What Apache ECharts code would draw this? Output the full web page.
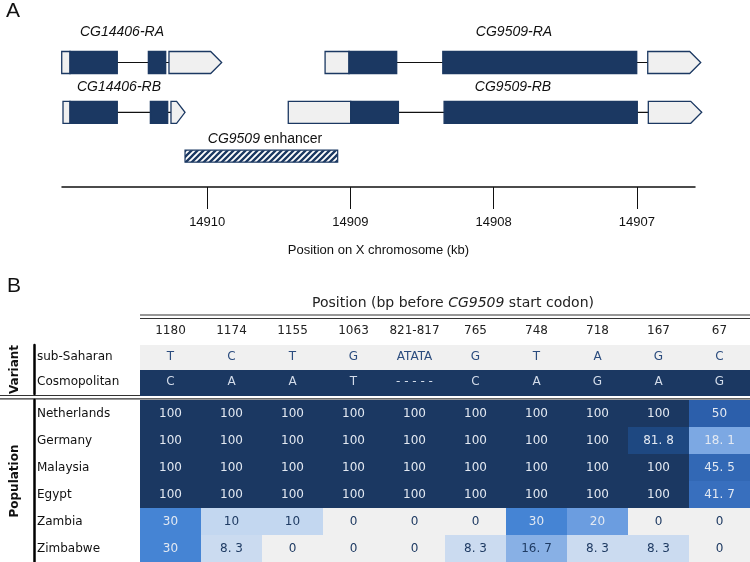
<!DOCTYPE html>
<html><head><meta charset="utf-8">
<script src="https://cdn.jsdelivr.net/npm/echarts@6/dist/echarts.min.js"></script>
<style>html,body{margin:0;padding:0;background:#fff}#c{width:750px;height:562px}</style>
</head><body><div id="c"></div>
<script>
// ---------- Panel A data (kb on X chromosome) ----------
const axisTicksKb = [14910, 14909, 14908, 14907];
// [feature, start kb, end kb]
const CG14406_RA = [['utr5', 14911.016, 14910.958], ['cds', 14910.958, 14910.628], ['cds', 14910.411, 14910.290], ['utr3', 14910.267, 14909.899]];
const CG14406_RB = [['utr5', 14911.007, 14910.958], ['cds', 14910.958, 14910.628], ['cds', 14910.397, 14910.276], ['utr3', 14910.253, 14910.155]];
const CG9509_RA = [['utr5', 14909.177, 14909.010], ['cds', 14909.010, 14908.677], ['cds', 14908.355, 14907.001], ['utr3', 14906.924, 14906.554]];
const CG9509_RB = [['utr5', 14909.434, 14908.998], ['cds', 14908.998, 14908.665], ['cds', 14908.346, 14906.997], ['utr3', 14906.920, 14906.547]];
const enhancerKb = [14910.155, 14909.089];

// ---------- Panel B data ----------
const positions = ['1180', '1174', '1155', '1063', '821-817', '765', '748', '718', '167', '67'];
const variants = ['sub-Saharan', 'Cosmopolitan'];
const subSaharan = ['T', 'C', 'T', 'G', 'ATATA', 'G', 'T', 'A', 'G', 'C'];
const cosmopolitan = ['C', 'A', 'A', 'T', '-----', 'C', 'A', 'G', 'A', 'G'];
const populations = ['Netherlands', 'Germany', 'Malaysia', 'Egypt', 'Zambia', 'Zimbabwe'];
const netherlands = [100, 100, 100, 100, 100, 100, 100, 100, 100, 50];
const germany = [100, 100, 100, 100, 100, 100, 100, 100, 81.8, 18.1];
const malaysia = [100, 100, 100, 100, 100, 100, 100, 100, 100, 45.5];
const egypt = [100, 100, 100, 100, 100, 100, 100, 100, 100, 41.7];
const zambia = [30, 10, 10, 0, 0, 0, 30, 20, 0, 0];
const zimbabwe = [30, 8.3, 0, 0, 0, 8.3, 16.7, 8.3, 8.3, 0];

// ---------- styling ----------
const NAVY = '#1b3862';
const LIGHT = '#f0f0f0';
const FA = 'Liberation Sans, Arial, sans-serif';
const FB = 'DejaVu Sans, Verdana, sans-serif';

const hatch = (function () {
  const c = document.createElement('canvas');
  c.width = 6; c.height = 6;
  const g = c.getContext('2d');
  g.fillStyle = '#fff'; g.fillRect(0, 0, 6, 6);
  g.strokeStyle = NAVY; g.lineWidth = 2.3;
  g.beginPath();
  g.moveTo(-1, 7); g.lineTo(7, -1);
  g.moveTo(-4, 4); g.lineTo(4, -4);
  g.moveTo(2, 10); g.lineTo(10, 2);
  g.stroke();
  return c;
})();

const KIND = { line: 0, utr5: 1, cds: 2, utr3: 3, enh: 4 };
const tracks = [[CG14406_RA, 22.5], [CG14406_RB, 72.3], [CG9509_RA, 22.5], [CG9509_RB, 72.3]];
const geneData = [];
tracks.forEach(([tr, y]) => {
  geneData.push([tr[0][1], tr[tr.length - 1][2], y, KIND.line]);
});
tracks.forEach(([tr, y]) => {
  tr.forEach(f => geneData.push([f[1], f[2], y, KIND[f[0]]]));
});
geneData.push([enhancerKb[0], enhancerKb[1], 116.2, KIND.enh]);

function renderGene(params, api) {
  const kind = api.value(3);
  const a = api.coord([api.value(0), api.value(2)]);
  const b = api.coord([api.value(1), api.value(2)]);
  const x1 = Math.min(a[0], b[0]), x2 = Math.max(a[0], b[0]), y = a[1];
  if (kind === 0) {
    return { type: 'line', shape: { x1: x1, y1: y, x2: x2, y2: y }, style: { stroke: '#111', lineWidth: 1.2 } };
  }
  if (kind === 4) {
    const h = 12;
    return { type: 'rect', shape: { x: x1, y: y - h / 2, width: x2 - x1, height: h },
      style: { fill: { image: hatch, repeat: 'repeat' }, stroke: NAVY, lineWidth: 1.2 } };
  }
  const h = 22;
  if (kind === 3) {
    const w = x2 - x1, head = Math.min(h * 0.5, w * 0.6);
    return { type: 'polygon', shape: { points: [[x1, y - h / 2], [x2 - head, y - h / 2], [x2, y], [x2 - head, y + h / 2], [x1, y + h / 2]] },
      style: { fill: LIGHT, stroke: NAVY, lineWidth: 1.3 } };
  }
  return { type: 'rect', shape: { x: x1, y: y - h / 2, width: x2 - x1, height: h },
    style: { fill: kind === 2 ? NAVY : LIGHT, stroke: NAVY, lineWidth: 1.3 } };
}

function cellRect(api, c, r) {
  const p = api.coord([c, r]);
  const s = api.size([1, 1]);
  const x = Math.round(p[0] - s[0] / 2), y = Math.round(p[1] - s[1] / 2);
  return { x: x, y: y, width: Math.round(s[0]) + 1, height: Math.round(s[1]) + 1, cx: p[0], cy: p[1] };
}

// ---------- Panel B tables ----------
const variantRows = [subSaharan, cosmopolitan];
const variantData = [];
variantRows.forEach((row, r) => row.forEach((_, c) => variantData.push([c, r])));

function renderVariant(params, api) {
  const c = api.value(0), r = api.value(1);
  const q = cellRect(api, c, r);
  let txt = variantRows[r][c];
  if (/^-+$/.test(txt)) txt = txt.split('').join(' ');
  return {
    type: 'group',
    children: [
      { type: 'rect', shape: { x: q.x, y: q.y, width: q.width, height: q.height }, style: { fill: r === 0 ? LIGHT : NAVY } },
      { type: 'text', x: q.cx, y: q.cy,
        style: { text: txt, fill: r === 0 ? '#2b4c7e' : '#d3dcea', fontSize: 12, fontFamily: FB, align: 'center', verticalAlign: 'middle' } }
    ]
  };
}

const popRows = [netherlands, germany, malaysia, egypt, zambia, zimbabwe];
const popData = [];
popRows.forEach((row, r) => row.forEach((v, c) => popData.push([c, r, v])));

function renderPop(params, api) {
  const c = api.value(0), r = api.value(1), v = api.value(2);
  const q = cellRect(api, c, r);
  return {
    type: 'group',
    children: [
      { type: 'rect', shape: { x: q.x, y: q.y, width: q.width, height: q.height }, style: { fill: api.visual('color') } },
      { type: 'text', x: q.cx, y: q.cy,
        style: { text: String(v).replace('.', '. '), fill: v >= 18 ? '#e3e9f2' : '#1f3b63', fontSize: 12, fontFamily: FB, align: 'center', verticalAlign: 'middle' } }
    ]
  };
}

const chart = echarts.init(document.getElementById('c'), null, { renderer: 'canvas' });
chart.setOption({
  backgroundColor: '#fff',
  animation: false,
  grid: [
    { left: 62, right: 55, top: 40, height: 147 },
    { left: 140, right: 0, top: 345, height: 49 },
    { left: 140, right: 0, top: 400, height: 162 }
  ],
  xAxis: [
    {
      gridIndex: 0, type: 'value', inverse: true, min: 14906.594, max: 14911.014, position: 'bottom',
      axisLine: { show: true, onZero: false, lineStyle: { color: '#111', width: 1.5 } },
      axisTick: { show: true, customValues: axisTicksKb, length: 22, lineStyle: { color: '#111', width: 1 } },
      axisLabel: { show: true, customValues: axisTicksKb, margin: 29, fontSize: 13, color: '#111', fontFamily: FA, formatter: v => String(v) },
      splitLine: { show: false },
      name: 'Position on X chromosome (kb)', nameLocation: 'middle', nameGap: 57,
      nameTextStyle: { fontSize: 13, color: '#111', fontFamily: FA }
    },
    {
      gridIndex: 1, type: 'category', data: positions, position: 'top',
      axisLine: { show: false }, axisTick: { show: false },
      axisLabel: { interval: 0, margin: 8, fontSize: 12, color: '#222', fontFamily: FB }
    },
    { gridIndex: 2, type: 'category', data: positions, show: false }
  ],
  yAxis: [
    { gridIndex: 0, type: 'value', min: 0, max: 147, inverse: true, show: false },
    {
      gridIndex: 1, type: 'category', data: variants, inverse: true, offset: 106,
      axisLine: { show: true, lineStyle: { color: '#000', width: 2.5 } },
      axisTick: { show: false },
      axisLabel: { align: 'left', margin: -3, fontSize: 12, color: '#111', fontFamily: FB },
      name: 'Variant', nameLocation: 'middle', nameRotate: 90, nameGap: 13.5,
      nameTextStyle: { fontSize: 12, fontWeight: 'bold', color: '#111', fontFamily: FB }
    },
    {
      gridIndex: 2, type: 'category', data: populations, inverse: true, offset: 106,
      axisLine: { show: true, lineStyle: { color: '#000', width: 2.5 } },
      axisTick: { show: false },
      axisLabel: { align: 'left', margin: -3, fontSize: 12, color: '#111', fontFamily: FB },
      name: 'Population', nameLocation: 'middle', nameRotate: 90, nameGap: 13.5,
      nameTextStyle: { fontSize: 12, fontWeight: 'bold', color: '#111', fontFamily: FB }
    }
  ],
  visualMap: {
    show: false, type: 'continuous', min: 0, max: 100, dimension: 2, seriesIndex: 2,
    inRange: { color: ['#f0f0f0', '#c3d7f0', '#6b9de0', '#4584d4', '#3a72c2', '#2c5fab', '#285596', '#234e8a', '#1f4a85', '#1c4070', '#1b3862'] }
  },
  series: [
    { type: 'custom', xAxisIndex: 0, yAxisIndex: 0, renderItem: renderGene, data: geneData, encode: { x: [0, 1], y: 2 }, clip: false, silent: true },
    { type: 'custom', xAxisIndex: 1, yAxisIndex: 1, renderItem: renderVariant, data: variantData, encode: { x: 0, y: 1 }, silent: true },
    { type: 'custom', xAxisIndex: 2, yAxisIndex: 2, renderItem: renderPop, data: popData, encode: { x: 0, y: 1 }, silent: true }
  ],
  graphic: [
    { type: 'text', left: 6, top: 1, style: { text: 'A', fontSize: 21, fontFamily: FA, fill: '#111' } },
    { type: 'text', left: 7, top: 276, style: { text: 'B', fontSize: 21, fontFamily: FA, fill: '#111' } },
    { type: 'text', x: 122, y: 32, style: { text: 'CG14406-RA', fontSize: 14, fontStyle: 'italic', fontFamily: FA, fill: '#111', align: 'center', verticalAlign: 'middle' } },
    { type: 'text', x: 119, y: 87, style: { text: 'CG14406-RB', fontSize: 14, fontStyle: 'italic', fontFamily: FA, fill: '#111', align: 'center', verticalAlign: 'middle' } },
    { type: 'text', x: 514, y: 32, style: { text: 'CG9509-RA', fontSize: 14, fontStyle: 'italic', fontFamily: FA, fill: '#111', align: 'center', verticalAlign: 'middle' } },
    { type: 'text', x: 513, y: 87, style: { text: 'CG9509-RB', fontSize: 14, fontStyle: 'italic', fontFamily: FA, fill: '#111', align: 'center', verticalAlign: 'middle' } },
    { type: 'text', x: 265, y: 139, style: { text: '{i|CG9509} enhancer', rich: { i: { fontStyle: 'italic', fontSize: 14, fontFamily: FA, fill: '#111' } }, fontSize: 14, fontFamily: FA, fill: '#111', align: 'center', verticalAlign: 'middle' } },
    { type: 'text', x: 453, y: 303, style: { text: 'Position (bp before {i|CG9509} start codon)', rich: { i: { fontStyle: 'italic', fontSize: 14, fontFamily: FB, fill: '#222' } }, fontSize: 14, fontFamily: FB, fill: '#222', align: 'center', verticalAlign: 'middle' } },
    { type: 'line', shape: { x1: 140, y1: 315, x2: 750, y2: 315 }, style: { stroke: '#333', lineWidth: 1.2 } },
    { type: 'line', shape: { x1: 140, y1: 318.5, x2: 750, y2: 318.5 }, style: { stroke: '#333', lineWidth: 1.2 } },
    { type: 'line', shape: { x1: 0, y1: 395.5, x2: 750, y2: 395.5 }, style: { stroke: '#333', lineWidth: 1.2 } },
    { type: 'line', shape: { x1: 0, y1: 398.8, x2: 750, y2: 398.8 }, style: { stroke: '#333', lineWidth: 1.2 } }
  ]
});
</script>
</body></html>
